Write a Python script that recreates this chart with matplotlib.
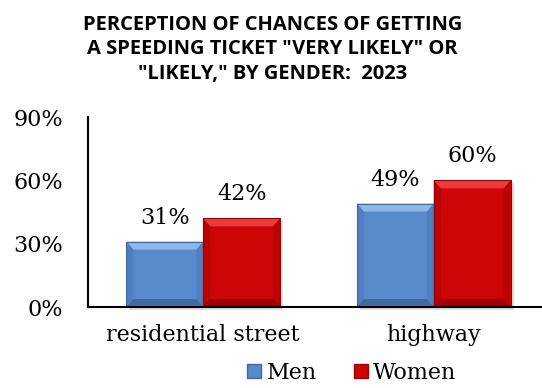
import matplotlib
matplotlib.use("Agg")
import matplotlib.pyplot as plt
from matplotlib.patches import Polygon, Rectangle
from matplotlib.lines import Line2D
import numpy as np

categories = ["residential street", "highway"]
series_names = ["Men", "Women"]
men = [31, 49]
women = [42, 60]
yticks = [0, 30, 60, 90]
title = 'PERCEPTION OF CHANCES OF GETTING\nA SPEEDING TICKET "VERY LIKELY" OR\n"LIKELY," BY GENDER:  2023'

W, H, DPI = 542, 388, 100
fig = plt.figure(figsize=(W / DPI, H / DPI), dpi=DPI)
serif = ["DejaVu Serif"]
fs = 16

# axes in pixel terms
left, right, bottom, top = 88, 549, 307, 117
ax = fig.add_axes([left / W, 1 - bottom / H, (right - left) / W, (bottom - top) / H])
ax.set_xlim(-0.5, 1.5)
ax.set_ylim(0, 90)

# base, top bevel, bottom bevel, side bevel
colors = {"Men": ("#5889CA", "#8DB8EC", "#3F6BA5", "#4F7FBE"),
          "Women": ("#CC0606", "#EC3A3A", "#9E0000", "#BA0303")}

bw = 0.333
x = np.arange(len(categories))
bars_m = ax.bar(x - bw / 2, men, bw, color=colors["Men"][0], zorder=3)
bars_w = ax.bar(x + bw / 2, women, bw, color=colors["Women"][0], zorder=3)

# bevel effect on each bar, depth given in pixels
fig.canvas.draw()
to_data = ax.transData.inverted()
def px_to_data(dx, dy):
    p0 = to_data.transform((0, 0))
    p1 = to_data.transform((dx, dy))
    return p1[0] - p0[0], p1[1] - p0[1]

dxd, dyd = px_to_data(7, 8)
sxd, syd = px_to_data(3, 3)
for bars, name in ((bars_m, "Men"), (bars_w, "Women")):
    base, light, dark, side = colors[name]
    for b in bars:
        x0, y0 = b.get_x(), b.get_y()
        x1, y1 = x0 + b.get_width(), y0 + b.get_height()
        # soft shadow
        ax.add_patch(Rectangle((x0 + sxd, y0 - syd), b.get_width(), b.get_height(),
                               color="#c8c8c8", alpha=0.6, zorder=2, lw=0, clip_on=False))
        ax.add_patch(Polygon([(x0, y0), (x0, y1), (x0 + dxd, y1 - dyd), (x0 + dxd, y0 + dyd)],
                             closed=True, color=side, lw=0, zorder=4))
        ax.add_patch(Polygon([(x1, y0), (x1, y1), (x1 - dxd, y1 - dyd), (x1 - dxd, y0 + dyd)],
                             closed=True, color=side, lw=0, zorder=4))
        ax.add_patch(Polygon([(x0, y1), (x1, y1), (x1 - dxd, y1 - dyd), (x0 + dxd, y1 - dyd)],
                             closed=True, color=light, lw=0, zorder=4))
        ax.add_patch(Polygon([(x0, y0), (x1, y0), (x1 - dxd, y0 + dyd), (x0 + dxd, y0 + dyd)],
                             closed=True, color=dark, lw=0, zorder=4))
        ax.add_patch(Rectangle((x0, y0), b.get_width(), b.get_height(), fill=False,
                               ec=dark, lw=0.8, zorder=4))

for bars, vals in ((bars_m, men), (bars_w, women)):
    for b, v in zip(bars, vals):
        ax.annotate(f"{v}%", (b.get_x() + b.get_width() / 2, v), xytext=(0, 13),
                    textcoords="offset points", ha="center", va="baseline",
                    fontsize=fs, family=serif, zorder=5)

ax.set_yticks(yticks)
ax.set_yticklabels([f"{t}%" for t in yticks], fontsize=fs, family=serif)
ax.set_xticks(x)
ax.set_xticklabels(categories, fontsize=fs, family=serif)
ax.tick_params(axis="both", length=0)
ax.tick_params(axis="x", pad=12)
ax.tick_params(axis="y", pad=18)
for s in ("top", "right"):
    ax.spines[s].set_visible(False)
for s in ("left", "bottom"):
    ax.spines[s].set_linewidth(1.5)
    ax.spines[s].set_color("black")
    ax.spines[s].set_zorder(6)

fig.text(0.503, 1 - 49 / H, title, ha="center", va="center", fontsize=14.5,
         fontweight="bold", family=["Open Sans", "DejaVu Sans"], linespacing=1.3)

handles = [Line2D([], [], marker="s", ls="", markersize=10, markerfacecolor=colors[n][0],
                  markeredgecolor=colors[n][2], markeredgewidth=1) for n in series_names]
fig.legend(handles, series_names, loc="center", bbox_to_anchor=(351 / W, 1 - 373 / H),
           ncol=2, frameon=False, prop={"family": serif, "size": fs},
           handletextpad=0.15, columnspacing=1.6, handlelength=0.8, borderpad=0)

fig.savefig("out.png", dpi=DPI)
